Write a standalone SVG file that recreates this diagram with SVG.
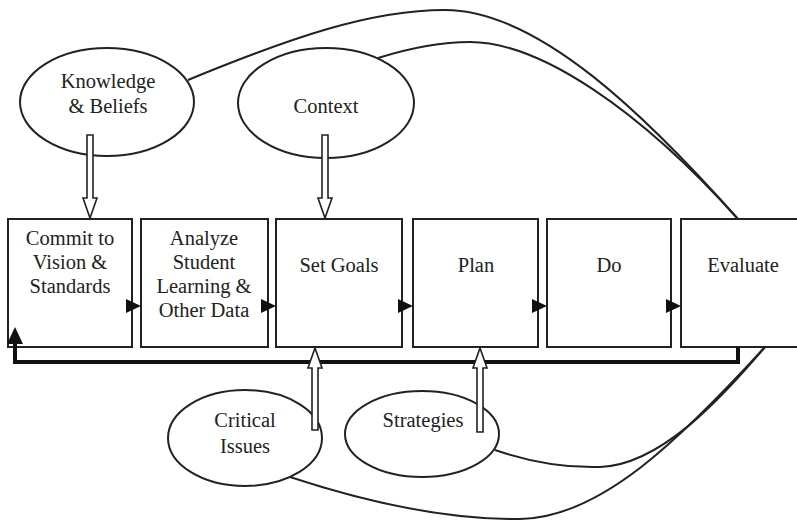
<svg xmlns="http://www.w3.org/2000/svg" width="797" height="520" viewBox="0 0 797 520">
  <defs>
    <style>
      .box { fill: #fff; stroke: #222; stroke-width: 2; }
      .oval { fill: #fff; stroke: #222; stroke-width: 2; }
      .lbl { font-family: 'Liberation Serif', 'DejaVu Serif', serif; font-size: 20.5px; fill: #222; text-anchor: middle; }
      .curve { fill: none; stroke: #222; stroke-width: 2; }
      .hollow { fill: #fff; stroke: #222; stroke-width: 1.6; stroke-linejoin: miter; }
      .tri { fill: #111; }
      .loop { fill: none; stroke: #111; stroke-width: 4; }
    </style>
  </defs>
  <rect width="797" height="520" fill="#fff"/>

  <!-- influence curves -->
  <g id="connectors">
    <path class="curve" d="M188,80 C290,38 370,10 445,10 C540,10 650,120 738,219"/>
    <path class="curve" d="M378,58 C410,48 440,42 470,42 C540,42 640,110 738,219"/>
    <path class="curve" d="M290,477 C360,500 440,520 520,519 C600,518 680,440 765,347"/>
    <path class="curve" d="M495,450 C530,462 565,468 600,467 C660,465 720,400 765,347"/>
  </g>

  <!-- process steps -->
  <g id="step-commit">
    <rect class="box" x="8" y="219" width="124" height="128"/>
    <text class="lbl" x="70" y="245" font-family="Liberation Serif, serif">Commit to</text>
    <text class="lbl" x="70" y="269">Vision &amp;</text>
    <text class="lbl" x="70" y="293">Standards</text>
  </g>
  <g id="step-analyze">
    <rect class="box" x="141" y="219" width="127" height="128"/>
    <text class="lbl" x="204" y="245">Analyze</text>
    <text class="lbl" x="204" y="269">Student</text>
    <text class="lbl" x="204" y="293">Learning &amp;</text>
    <text class="lbl" x="204" y="317">Other Data</text>
  </g>
  <g id="step-goals">
    <rect class="box" x="276" y="219" width="126" height="128"/>
    <text class="lbl" x="339" y="272">Set Goals</text>
  </g>
  <g id="step-plan">
    <rect class="box" x="413" y="219" width="125" height="128"/>
    <text class="lbl" x="476" y="272">Plan</text>
  </g>
  <g id="step-do">
    <rect class="box" x="547" y="219" width="124" height="128"/>
    <text class="lbl" x="609" y="272">Do</text>
  </g>
  <g id="step-evaluate">
    <rect class="box" x="681" y="219" width="130" height="128"/>
    <text class="lbl" x="743" y="272">Evaluate</text>
  </g>

  <!-- flow arrows between steps and feedback loop -->
  <g id="flow">
    <polygon class="tri" points="126,299 141,306 126,313"/>
    <polygon class="tri" points="261,299 276,306 261,313"/>
    <polygon class="tri" points="398,299 413,306 398,313"/>
    <polygon class="tri" points="532,299 547,306 532,313"/>
    <polygon class="tri" points="666,299 681,306 666,313"/>
    <path class="loop" d="M738,347 V362 H15 V342"/>
    <polygon class="tri" points="7,344 15,327 23,344"/>
  </g>

  <!-- influences -->
  <g id="knowledge">
    <ellipse class="oval" cx="107" cy="102" rx="87" ry="54"/>
    <text class="lbl" x="108" y="88">Knowledge</text>
    <text class="lbl" x="108" y="113">&amp; Beliefs</text>
  </g>
  <g id="context">
    <ellipse class="oval" cx="326" cy="103" rx="88" ry="55"/>
    <text class="lbl" x="326" y="113">Context</text>
  </g>
  <g id="critical">
    <ellipse class="oval" cx="245" cy="438" rx="77" ry="48"/>
    <text class="lbl" x="245" y="427">Critical</text>
    <text class="lbl" x="245" y="453">Issues</text>
  </g>
  <g id="strategies">
    <ellipse class="oval" cx="422" cy="434" rx="77" ry="43"/>
    <text class="lbl" x="423" y="427">Strategies</text>
  </g>

  <!-- hollow influence arrows -->
  <g id="influence-arrows">
    <path class="hollow" d="M87,135 H93 V198 H97 L90,218 L83,198 H87 Z"/>
    <path class="hollow" d="M322,135 H328 V198 H332 L325,218 L318,198 H322 Z"/>
    <path class="hollow" d="M312,430 H318 V368 H322 L315,348 L308,368 H312 Z"/>
    <path class="hollow" d="M477,432 H483 V368 H487 L480,348 L473,368 H477 Z"/>
  </g>
</svg>
